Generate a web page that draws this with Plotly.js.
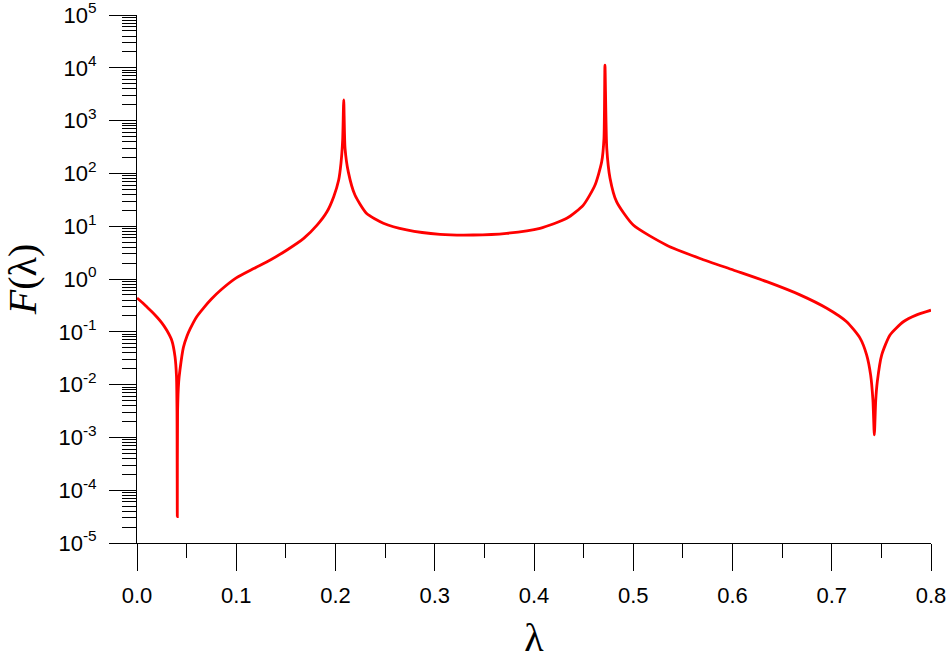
<!DOCTYPE html>
<html>
<head>
<meta charset="utf-8">
<script src="https://cdn.plot.ly/plotly-3.0.1.min.js"></script>
<style>html,body{margin:0;padding:0;background:#fff}#chart{width:950px;height:661px}</style>
</head>
<body>
<div id="chart"></div>
<script>
// λ values (x)
const lambda = [
  0.000, 0.005, 0.010, 0.015, 0.020, 0.025, 0.030, 0.035, 0.0383, 0.0398, 0.0403, 0.0406,
  0.0409, 0.0420, 0.0433, 0.0467, 0.0504, 0.0534, 0.0600, 0.0670, 0.0750, 0.0850, 0.1000,
  0.1176, 0.1343, 0.1511, 0.1680, 0.1814, 0.1914, 0.1982, 0.2032, 0.2055, 0.2072, 0.2083,
  0.2096, 0.2129, 0.2196, 0.2314, 0.2482, 0.2717, 0.3053, 0.3388, 0.3725, 0.4060, 0.4330,
  0.4497, 0.4615, 0.4682, 0.4705, 0.4715, 0.4733, 0.4766, 0.4833, 0.5000, 0.5337, 0.5673,
  0.6008, 0.6345, 0.6680, 0.6950, 0.7150, 0.7285, 0.7352, 0.7392, 0.7415, 0.7429, 0.7443,
  0.7459, 0.7503, 0.7587, 0.7721, 0.7856, 0.8000
];
// F(λ) values
const F = [
  0.437, 0.363, 0.295, 0.240, 0.191, 0.148, 0.107, 0.0692, 0.0339, 0.0141, 0.00316, 3.16e-5,
  0.00316, 0.0112, 0.0191, 0.0501, 0.0832, 0.112, 0.191, 0.282, 0.417, 0.631, 1.05,
  1.58, 2.29, 3.55, 5.89, 10.5, 18.8, 36.3, 75.0, 155, 427, 2455,
  302, 107, 38.9, 17.4, 11.4, 8.51, 7.01, 6.81, 7.33, 9.12, 14.1,
  25.1, 60.3, 166, 457, 11220, 302, 81.3, 28.8, 10.5, 4.37, 2.45,
  1.48, 0.891, 0.501, 0.279, 0.155, 0.0759, 0.0363, 0.0151, 0.00501, 0.00112, 0.00501,
  0.0114, 0.0363, 0.0871, 0.155, 0.209, 0.257
];
// axis tick labels
const yTickVals = [1e-5, 1e-4, 1e-3, 1e-2, 1e-1, 1e0, 1e1, 1e2, 1e3, 1e4, 1e5];
const yTickText = ["10<sup>-5</sup>", "10<sup>-4</sup>", "10<sup>-3</sup>", "10<sup>-2</sup>", "10<sup>-1</sup>",
  "10<sup>0</sup>", "10<sup>1</sup>", "10<sup>2</sup>", "10<sup>3</sup>", "10<sup>4</sup>", "10<sup>5</sup>"];
const xTickVals = [0.0, 0.1, 0.2, 0.3, 0.4, 0.5, 0.6, 0.7, 0.8];
const xTickText = ["0.0", "0.1", "0.2", "0.3", "0.4", "0.5", "0.6", "0.7", "0.8"];

const trace = {
  x: lambda, y: F, type: 'scatter', mode: 'lines',
  line: {color: '#ff0000', width: 2.8, shape: 'spline', smoothing: 0.6},
  hoverinfo: 'skip'
};

const tickFont = {family: 'Liberation Sans, Arial, sans-serif', size: 22, color: '#000'};
const layout = {
  width: 950, height: 661,
  margin: {l: 137, r: 19, t: 15, b: 118},
  paper_bgcolor: '#fff', plot_bgcolor: '#fff',
  showlegend: false,
  xaxis: {
    range: [0, 0.8], tickmode: 'array', tickvals: xTickVals, ticktext: xTickText,
    ticks: 'outside', ticklen: 27, tickwidth: 1, tickcolor: '#000',
    minor: {dtick: 0.05, tick0: 0, ticks: 'outside', ticklen: 14, tickwidth: 1, tickcolor: '#000', showgrid: false},
    showline: true, linecolor: '#000', linewidth: 1, showgrid: false, zeroline: false,
    tickfont: tickFont, ticklabelstandoff: 6, ticklabeloverflow: 'allow',
    title: {text: 'λ', font: {family: 'Liberation Serif, Times New Roman, serif', size: 40, color: '#000'}, standoff: 15}
  },
  yaxis: {
    type: 'log', range: [-5, 5], tickmode: 'array', tickvals: yTickVals, ticktext: yTickText,
    ticks: 'outside', ticklen: 27, tickwidth: 1, tickcolor: '#000',
    minor: {dtick: 'D1', ticks: 'outside', ticklen: 14, tickwidth: 1, tickcolor: '#000', showgrid: false},
    showline: true, linecolor: '#000', linewidth: 1, showgrid: false, zeroline: false,
    tickfont: tickFont, ticklabelstandoff: 8, ticklabeloverflow: 'allow',
    title: {text: '<i>F</i>(λ)', font: {family: 'Liberation Serif, Times New Roman, serif', size: 40, color: '#000'}, standoff: 12}
  }
};

Plotly.newPlot('chart', [trace], layout, {staticPlot: true, displayModeBar: false});
</script>
</body>
</html>
